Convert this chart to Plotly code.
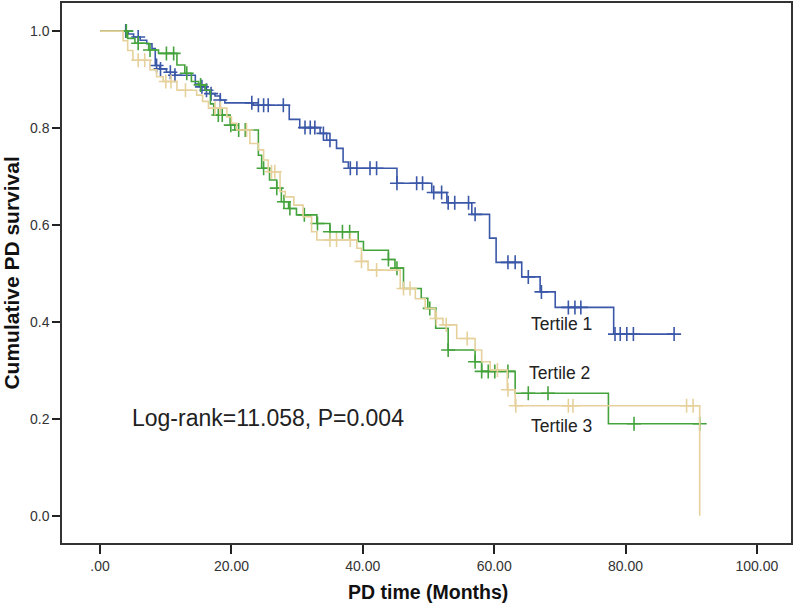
import plotly.graph_objects as go

# ---------------- data ----------------
# Kaplan-Meier step points: time of event (months) and survival after the event
t1_times = [0, 4.3, 5.1, 6.1, 7.1, 7.9, 8.4, 9.1, 10.1, 11.4, 14.5, 15.2, 16.0, 16.7, 17.5, 18.3, 19.0,
            23.3, 28.8, 30.4, 33.5, 34.5, 36.0, 37.0, 37.8, 45.2, 50.5, 52.8, 56.6, 59.3, 60.3,
            64.2, 67.0, 69.3, 78.2]
t1_surv = [1.0, 0.994, 0.988, 0.981, 0.974, 0.964, 0.929, 0.922, 0.915, 0.909, 0.891, 0.885, 0.878, 0.871,
           0.866, 0.858, 0.852, 0.847, 0.818, 0.801, 0.789, 0.775, 0.758, 0.730, 0.717, 0.686, 0.667,
           0.646, 0.622, 0.573, 0.523, 0.493, 0.462, 0.430, 0.375]
t1_censor = [3.9, 5.8, 8.6, 9.2, 10.7, 11.4, 15.5, 16.2, 16.9, 18.3, 23.1, 24.1, 24.9, 25.6, 27.9,
             31.2, 32.0, 32.7, 34.0, 35.0, 38.1, 39.1, 41.1, 42.1, 45.2, 48.2, 49.1, 50.8, 52.0,
             53.0, 54.0, 56.1, 57.1, 62.1, 63.2, 65.2, 67.2, 71.3, 72.3, 73.2, 78.4, 79.2, 80.2,
             81.2, 87.4]

t2_times = [0, 4.2, 5.3, 7.4, 8.9, 11.7, 12.9, 13.9, 15.0, 16.0, 16.8, 17.3, 19.8, 20.5, 24.1, 24.6,
            25.8, 26.9, 27.6, 28.7, 29.9, 33.0, 35.0, 39.3, 40.1, 43.9, 44.9, 46.2, 48.9, 49.9, 51.1,
            53.0, 57.1, 58.1, 63.2, 77.4]
t2_surv = [1.0, 0.985, 0.975, 0.961, 0.954, 0.930, 0.913, 0.896, 0.889, 0.878, 0.850, 0.827, 0.806,
           0.796, 0.744, 0.717, 0.693, 0.676, 0.648, 0.634, 0.621, 0.603, 0.586, 0.566, 0.548, 0.529,
           0.511, 0.469, 0.449, 0.428, 0.387, 0.342, 0.318, 0.298, 0.253, 0.190]
t2_censor = [4.0, 5.8, 7.6, 10.1, 11.2, 13.2, 15.3, 18.0, 18.6, 19.9, 21.1, 22.1, 24.9, 26.9, 28.0,
             28.9, 31.1, 33.1, 35.0, 36.9, 38.0, 43.9, 45.2, 50.2, 53.0, 57.1, 58.1, 59.1, 60.1,
             62.1, 65.2, 68.2, 81.3, 91.3]

t3_times = [0, 3.5, 4.2, 5.0, 7.6, 8.6, 9.6, 11.7, 14.7, 15.6, 16.5, 19.3, 20.0, 20.8, 22.8, 24.1,
            24.9, 25.6, 27.4, 28.2, 29.5, 30.9, 32.2, 33.0, 39.1, 39.8, 40.8, 45.7, 48.0, 49.5, 51.0,
            52.2, 54.3, 57.1, 58.1, 59.4, 62.0, 63.2, 91.3]
t3_surv = [1.0, 0.980, 0.960, 0.940, 0.920, 0.906, 0.896, 0.878, 0.868, 0.855, 0.841, 0.823, 0.810,
           0.796, 0.768, 0.755, 0.734, 0.710, 0.669, 0.658, 0.641, 0.617, 0.586, 0.569, 0.552, 0.525,
           0.507, 0.469, 0.448, 0.428, 0.407, 0.394, 0.366, 0.342, 0.318, 0.301, 0.260, 0.227, 0.0]
t3_censor = [5.8, 6.8, 10.0, 10.8, 13.0, 17.5, 18.3, 22.3, 26.1, 26.6, 35.0, 36.0, 38.1, 39.8, 42.1,
             46.2, 47.2, 51.2, 52.7, 55.9, 60.5, 62.1, 63.3, 71.3, 72.0, 89.3, 90.3]

series_names = ["Tertile 1", "Tertile 2", "Tertile 3"]
series_colors = ["#3b57a8", "#45a33d", "#e6d19c"]
# label anchor positions (data coords) for the curve labels
label_x = [70.2, 70.0, 70.3]
label_y = [0.395, 0.295, 0.185]

x_ticks = [0, 20, 40, 60, 80, 100]
x_tick_labels = [".00", "20.00", "40.00", "60.00", "80.00", "100.00"]
y_ticks = [0.0, 0.2, 0.4, 0.6, 0.8, 1.0]
y_tick_labels = ["0.0", "0.2", "0.4", "0.6", "0.8", "1.0"]

x_title = "PD time (Months)"
y_title = "Cumulative PD survival"
stat_text = "Log-rank=11.058, P=0.004"

FONT = "Liberation Sans, Arial, sans-serif"


def surv_at(times, surv, t):
    s = surv[0]
    for tt, ss in zip(times, surv):
        if tt <= t + 1e-9:
            s = ss
    return s


fig = go.Figure()
all_series = [(t1_times, t1_surv, t1_censor), (t2_times, t2_surv, t2_censor), (t3_times, t3_surv, t3_censor)]
for (times, surv, cens), name, col in zip(all_series, series_names, series_colors):
    xs = list(times)
    ys = list(surv)
    last = max(cens) if cens else xs[-1]
    if last > xs[-1] and ys[-1] > 0:
        xs.append(last)
        ys.append(ys[-1])
    fig.add_trace(go.Scatter(x=xs, y=ys, mode="lines", line=dict(color=col, width=1.6, shape="hv"),
                             name=name, showlegend=False, hoverinfo="skip"))
    fig.add_trace(go.Scatter(x=cens, y=[surv_at(times, surv, c) for c in cens], mode="markers",
                             marker=dict(symbol="cross-thin", size=10, line=dict(color=col, width=1.6)),
                             name=name + " censored", showlegend=False))

for name, lx, ly in zip(series_names, label_x, label_y):
    fig.add_annotation(x=lx, y=ly, text=name, showarrow=False,
                       font=dict(family=FONT, size=17.5, color="#222"))
fig.add_annotation(x=25.5, y=0.202, text=stat_text, showarrow=False,
                   font=dict(family=FONT, size=23, color="#222"))

# axis titles
fig.add_annotation(xref="paper", yref="paper", x=0.502, y=-0.091, text="<b>" + x_title + "</b>",
                   showarrow=False, yanchor="middle", font=dict(family=FONT, size=19.5, color="#111"))
fig.add_annotation(xref="paper", yref="paper", x=-0.0705, y=0.5, text="<b>" + y_title + "</b>",
                   showarrow=False, textangle=-90, xanchor="center", yanchor="middle",
                   font=dict(family=FONT, size=21, color="#111"))

fig.update_layout(
    width=800, height=606,
    margin=dict(l=62, r=9, t=3, b=63, autoexpand=False),
    paper_bgcolor="white", plot_bgcolor="white",
    font=dict(family=FONT, color="#333"),
)
fig.update_xaxes(range=[-5.8, 105.2], tickvals=x_ticks, ticktext=x_tick_labels, automargin=False,
                 ticks="outside", ticklen=9, tickwidth=1.5, tickcolor="#222",
                 showline=True, linecolor="#333", linewidth=1.5, mirror=True,
                 showgrid=False, zeroline=False, tickfont=dict(size=14, color="#333"))
fig.update_yaxes(range=[-0.056, 1.058], tickvals=y_ticks, ticktext=y_tick_labels, automargin=False,
                 ticks="outside", ticklen=8, tickwidth=1.5, tickcolor="#222",
                 showline=True, linecolor="#333", linewidth=1.5, mirror=True,
                 showgrid=False, zeroline=False, tickfont=dict(size=14, color="#333"))

# remove the browser's default 8px body margin so the 800x606 figure fills the window exactly
fig.write_html("out.html", config={"displayModeBar": False},
               post_script="document.body.style.margin='0';document.body.style.overflow='hidden';")
